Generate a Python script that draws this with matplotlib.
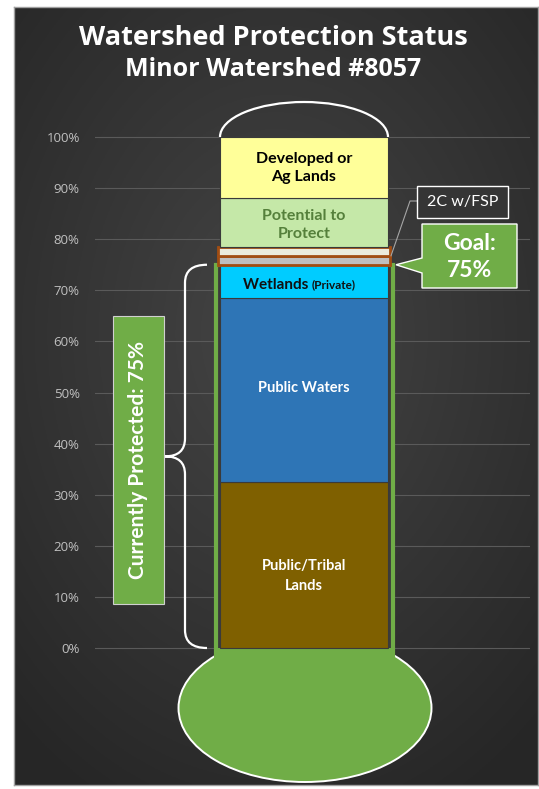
import numpy as np
import matplotlib.pyplot as plt
from matplotlib.patches import Rectangle, Ellipse, Arc, Polygon, PathPatch
from matplotlib.path import Path

plt.rcParams['font.family'] = ['Lato', 'DejaVu Sans']

# data (percent of watershed, bottom to top)
seg_names = ["Public/Tribal Lands", "Public Waters", "Wetlands (Private)",
             "2C w/FSP (a)", "2C w/FSP (b)", "Potential to Protect",
             "Developed or Ag Lands"]
seg_values = [32.5, 36.0, 6.5, 1.75, 1.75, 9.5, 12.0]
seg_colors = ['#7f6000', '#2e75b6', '#00ccff', '#bfbfbf', '#ecebdc',
              '#c5e8a8', '#ffff99']
protected_names = seg_names[:3]
goal = 75
tick_vals = list(range(0, 101, 10))
tick_labels = [f"{t}%" for t in tick_vals]

W, H = 539, 789
PX = 5.11          # pixels per percent
Y0 = 648           # pixel row of 0%
def yp(py):
    return (Y0 - py) / PX

fig = plt.figure(figsize=(W / 100, H / 100), dpi=100)
fig.patch.set_facecolor('white')

# dark gradient panel
bg = fig.add_axes([14 / W, 4 / H, 524 / W, 778 / H], zorder=0)
yy, xx = np.mgrid[0:1:300j, 0:1:300j]
r = np.sqrt((xx - 0.5) ** 2 + ((yy - 0.42) * 1.1) ** 2)
v = 0.27 - 0.12 * np.clip(r / 0.75, 0, 1)
bg.imshow(np.dstack([v, v, v]), aspect='auto', extent=[0, 1, 0, 1])
bg.set_xticks([]); bg.set_yticks([])
for s in bg.spines.values():
    s.set_color('#a0a0a0'); s.set_linewidth(1)

ax = fig.add_axes([95 / W, 0, (530 - 95) / W, 1], zorder=1)
ax.patch.set_visible(False)
ax.set_xlim(95, 530)
ax.set_ylim(yp(H), yp(0))
for s in ax.spines.values():
    s.set_visible(False)
ax.set_xticks([])
ax.set_yticks(tick_vals)
ax.set_yticklabels(tick_labels, color='#c0c0c0', fontsize=9.5,
                   family=['Open Sans', 'DejaVu Sans'])
ax.tick_params(axis='y', length=0, pad=11)
ax.yaxis.grid(True, color='#5a5a5a', lw=0.8)
ax.set_axisbelow(True)

green = '#70ad47'
protected = sum(seg_values[:len(protected_names)])
xc = 304

# bulb and tube
bulb_y = yp(708)
ax.add_patch(Ellipse((xc + 1, bulb_y), 253, 148 / PX, fc=green, ec='white',
                     lw=1.4, zorder=2))
ax.add_patch(Rectangle((216, yp(660)), 177, protected - yp(660), fc='#3c3c3c',
                       ec=green, lw=3, zorder=2.3))
ax.add_patch(Rectangle((214, bulb_y), 181, -bulb_y, fc=green, ec='none',
                       zorder=2.5))

# stacked segments
bottom = 0
for name, val, col in zip(seg_names, seg_values, seg_colors):
    if name.startswith("2C"):
        ax.bar(xc, val, bottom=bottom, width=172, color=col, ec='#a24d12',
               lw=2, zorder=3)
    else:
        ax.bar(xc, val, bottom=bottom, width=168, color=col, ec='#3a3a3a',
               lw=0.8, zorder=3)
    bottom += val

# dome
ax.add_patch(Arc((xc, bottom), 168, 70 / PX, theta1=0, theta2=180,
                 color='white', lw=1.6, zorder=3))

# segment labels
cum = np.cumsum([0] + seg_values)
mid = (cum[:-1] + cum[1:]) / 2
ax.text(xc, mid[6], "Developed or\nAg Lands", ha='center', va='center',
        fontsize=11.5, fontweight='bold', color='black', zorder=5,
        linespacing=1.35)
ax.text(xc, mid[5] - 0.5, "Potential to\nProtect", ha='center', va='center',
        fontsize=11.5, fontweight='bold', color='#55803b', zorder=5,
        linespacing=1.35)
ax.text(xc + 8, mid[2] - 0.7, "Wetlands ", ha='right', va='center',
        fontsize=11, fontweight='bold', color='#111111', zorder=5)
ax.text(xc + 8, mid[2] - 0.7, "(Private)", ha='left', va='center',
        fontsize=8.5, fontweight='bold', color='#111111', zorder=5)
ax.text(xc, mid[1] + 0.4, "Public Waters", ha='center', va='center',
        fontsize=10.5, fontweight='bold', color='white', zorder=5)
ax.text(xc, mid[0] - 2.2, "Public/Tribal\nLands", ha='center', va='center',
        fontsize=10.5, fontweight='bold', color='white', zorder=5,
        linespacing=1.5)

# curly brace for protected share
top, midp = protected, protected / 2
c = 3.5
verts = [(207, top), (185, top), (185, top - c),
         (185, midp + c), (185, midp), (165, midp),
         (185, midp), (185, midp - c),
         (185, c), (185, 0), (207, 0)]
codes = [Path.MOVETO, Path.CURVE3, Path.CURVE3,
         Path.LINETO, Path.CURVE3, Path.CURVE3,
         Path.CURVE3, Path.CURVE3,
         Path.LINETO, Path.CURVE3, Path.CURVE3]
ax.add_patch(PathPatch(Path(verts, codes), fc='none', ec='white', lw=1.6,
                       zorder=3))

ax.add_patch(Rectangle((113, yp(604)), 51, (604 - 316) / PX, fc=green,
                       ec='#d0d0d0', lw=0.8, zorder=4))
ax.text(138.5, yp(460), f"Currently Protected: {protected:.0f}%",
        rotation=90, ha='center', va='center', fontsize=15,
        fontweight='bold', color='white', zorder=5)

# goal callout
gt, gb = yp(224), yp(288)
ax.add_patch(Polygon([(422, gt), (517, gt), (517, gb), (422, gb),
                      (422, yp(273)), (396, goal), (422, yp(258))],
                     closed=True, fc=green, ec='white', lw=1, zorder=4))
ax.text(469.5, yp(257), f"Goal:\n{goal}%", ha='center', va='center',
        fontsize=16.5, fontweight='bold', color='white', zorder=5,
        linespacing=1.3)

# 2C w/FSP label
ax.plot([417, 410, 391], [yp(201), yp(201), cum[4]], color='#a6a6a6',
        lw=0.8, zorder=3)
ax.add_patch(Rectangle((417, yp(218)), 91, 32 / PX, fc='#353535',
                       ec='white', lw=1, zorder=4))
ax.text(462.5, yp(202), "2C w/FSP", ha='center', va='center', fontsize=11.5,
        color='white', zorder=5)

# titles
fig.text(273.5 / W, 1 - 38 / H, "Watershed Protection Status", ha='center',
         va='center', fontsize=19.5, fontweight='bold', color='white', zorder=3,
         family=['Open Sans', 'DejaVu Sans'])
fig.text(273.5 / W, 1 - 70 / H, "Minor Watershed #8057", ha='center',
         va='center', fontsize=18, fontweight='bold', color='white', zorder=3,
         family=['Open Sans', 'DejaVu Sans'])

fig.savefig('out.png', dpi=100)
